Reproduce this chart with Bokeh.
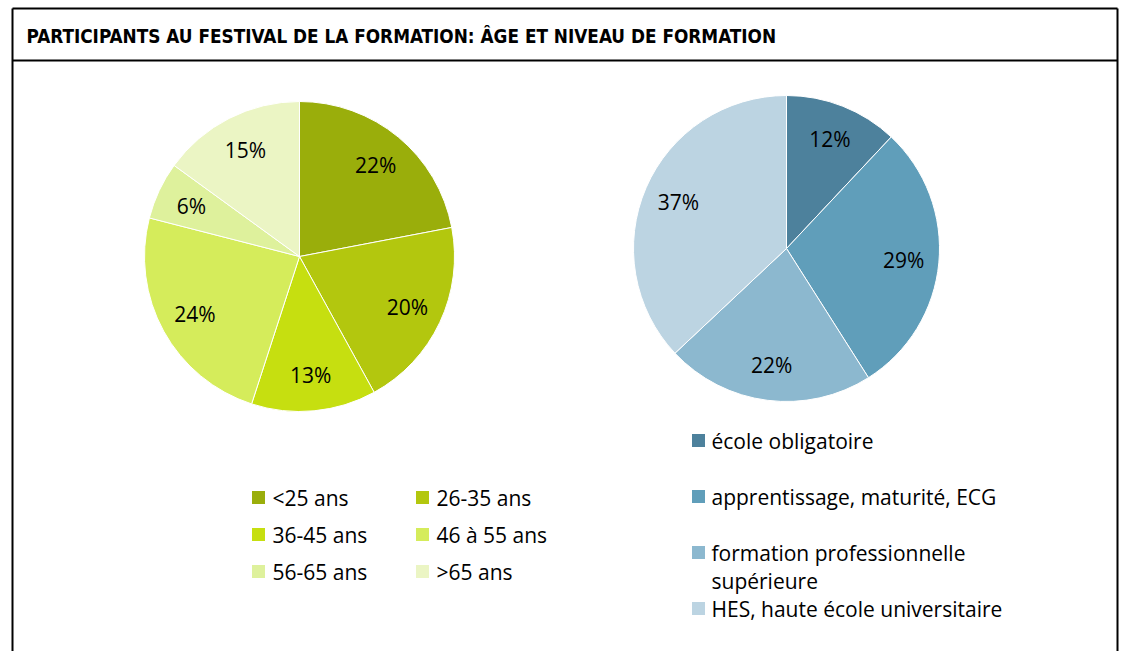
import numpy as np
from bokeh.plotting import figure
from bokeh.models import Range1d, ColumnDataSource
from bokeh.core.properties import value
from bokeh.embed import file_html
from bokeh.resources import INLINE

title = "PARTICIPANTS AU FESTIVAL DE LA FORMATION: ÂGE ET NIVEAU DE FORMATION"
age_labels = ["<25 ans", "26-35 ans", "36-45 ans", "46 à 55 ans", "56-65 ans", ">65 ans"]
age_values = [22, 20, 13, 24, 6, 15]
age_colors = ["#9aae0b", "#b3c70e", "#c6df10", "#d5ec5b", "#def19c", "#ebf5c4"]

edu_labels = ["école obligatoire", "apprentissage, maturité, ECG",
              "formation professionnelle\nsupérieure", "HES, haute école universitaire"]
edu_values = [12, 29, 22, 37]
edu_colors = ["#4d819c", "#609eba", "#8cb8cf", "#bcd4e2"]

W, H = 1122, 651
FONT = "Open Sans"

p = figure(width=W, height=H, x_range=Range1d(0, W), y_range=Range1d(0, H),
           output_backend="svg", toolbar_location=None, min_border=0)
p.axis.visible = False
p.grid.visible = False
p.outline_line_color = None
p.background_fill_color = "white"

def Y(y):
    return H - y

# frame
p.segment(x0=[12, 1117, 12, 12], y0=[Y(8), Y(8), Y(8), Y(60)],
          x1=[12, 1117, 1117, 1117], y1=[Y(660), Y(660), Y(8), Y(60)],
          line_color="black", line_width=2)

p.text(x=[26], y=[Y(36)], text=[title], text_font=value("DejaVu Sans Condensed"),
       text_font_style="bold", text_font_size="18.8px", text_baseline="middle",
       text_color="black")

def pie(cx, cy, r, vals, colors):
    v = np.array(vals, dtype=float)
    frac = v / v.sum()
    cum = np.concatenate([[0], np.cumsum(frac)])
    start = np.pi / 2 - cum[:-1] * 2 * np.pi
    end = np.pi / 2 - cum[1:] * 2 * np.pi
    src = ColumnDataSource(dict(start=start, end=end, color=colors))
    p.wedge(x=cx, y=Y(cy), radius=r, start_angle="start", end_angle="end",
            direction="clock", fill_color="color", line_color="white",
            line_width=1, source=src)
    mid = np.pi / 2 - (cum[:-1] + cum[1:]) / 2 * 2 * np.pi
    lx = cx + 0.77 * r * np.cos(mid)
    ly = Y(cy) + 0.77 * r * np.sin(mid)
    p.text(x=lx, y=ly, text=[f"{int(x)}%" for x in vals], text_font=value(FONT),
           text_font_size="21px", text_align="center", text_baseline="middle",
           text_color="black")

pie(299, 256, 155, age_values, age_colors)
pie(786, 248, 153, edu_values, edu_colors)

# left legend
lx = [252, 416, 252, 416, 252, 416]
ly = [497, 497, 534, 534, 571, 571]
p.rect(x=[x + 6 for x in lx], y=[Y(y) for y in ly], width=13, height=13,
       fill_color=age_colors, line_color=None)
p.text(x=[x + 20 for x in lx], y=[Y(y) for y in ly], text=age_labels,
       text_font=value(FONT), text_font_size="21px", text_baseline="middle",
       text_color="black")

# right legend
ry = [440, 496, 552, 608]
p.rect(x=[698] * 4, y=[Y(y) for y in ry], width=13, height=13,
       fill_color=edu_colors, line_color=None)
edu_lines_text = []
edu_lines_y = []
for lab, y in zip(edu_labels, ry):
    for i, part in enumerate(lab.split("\n")):
        edu_lines_text.append(part)
        edu_lines_y.append(Y(y + i * 28))
p.text(x=[711] * len(edu_lines_text), y=edu_lines_y, text=edu_lines_text,
       text_font=value(FONT), text_font_size="21px", text_baseline="middle",
       text_color="black")

open("out.html", "w").write(file_html(p, INLINE))
